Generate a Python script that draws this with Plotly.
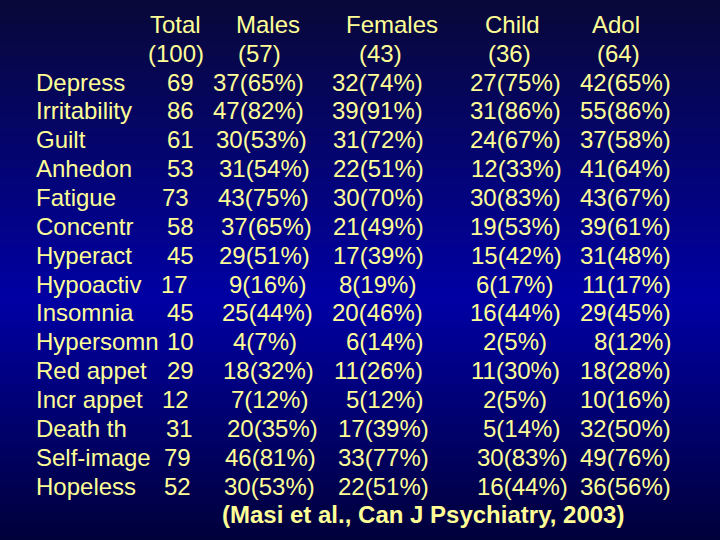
import plotly.graph_objects as go

# ---------------- data ----------------
symptoms = ["Depress", "Irritability", "Guilt", "Anhedon", "Fatigue", "Concentr",
            "Hyperact", "Hypoactiv", "Insomnia", "Hypersomn", "Red appet",
            "Incr appet", "Death th", "Self-image", "Hopeless"]
total = [69, 86, 61, 53, 73, 58, 45, 17, 45, 10, 29, 12, 31, 79, 52]
males = [37, 47, 30, 31, 43, 37, 29, 9, 25, 4, 18, 7, 20, 46, 30]
males_pct = [65, 82, 53, 54, 75, 65, 51, 16, 44, 7, 32, 12, 35, 81, 53]
females = [32, 39, 31, 22, 30, 21, 17, 8, 20, 6, 11, 5, 17, 33, 22]
females_pct = [74, 91, 72, 51, 70, 49, 39, 19, 46, 14, 26, 12, 39, 77, 51]
child = [27, 31, 24, 12, 30, 19, 15, 6, 16, 2, 11, 2, 5, 30, 16]
child_pct = [75, 86, 67, 33, 83, 53, 42, 17, 44, 5, 30, 5, 14, 83, 44]
adol = [42, 55, 37, 41, 43, 39, 31, 11, 29, 8, 18, 10, 32, 49, 36]
adol_pct = [65, 86, 58, 64, 67, 61, 48, 17, 45, 12, 28, 16, 50, 76, 56]

group_names = ["Total", "Males", "Females", "Child", "Adol"]
group_n = [100, 57, 43, 36, 64]
citation = "(Masi et al., Can J Psychiatry, 2003)"

# ---------------- layout / style ----------------
W, H = 720, 540
FONT = "Liberation Sans, Arial, sans-serif"
TXT = "#ffff96"
FS = 24

# column placement (pixel x, anchor) and per-row alignment offsets as on the slide
label_x = 34
col_cfg = [
    (196, "right"),   # total
    (258, "center"),  # males
    (425, "right"),   # females
    (515, "center"),  # child
    (673, "right"),   # adol
]
row_offsets = [
    [0, 0, 0, 0, -5, 0, 0, -6, 0, 0, 0, -5, -1, -3, -3],
    [0, 0, 3, 6, 5, 8, 6, 9, 9, 7, 10, 11, 14, 12, 11],
    [0, 0, 1, 1, 1, 1, 1, -7, 0, 0, 0, 0, 6, 6, 6],
    [0, 0, 0, 1, 0, 0, 1, -1, 0, 0, 0, 0, 6, 7, 7],
    [0] * 15,
]
head_x = [175, 268, 392, 512, 616]
sub_x = [176, 259, 380, 509, 618]

fig = go.Figure()

# background gradient (dark navy -> blue -> dark navy)
def lerp(c1, c2, t):
    return tuple(int(round(a + (b - a) * t)) for a, b in zip(c1, c2))

stops = [(0, (8, 8, 56)), (300, (0, 0, 164)), (540, (0, 0, 58))]
shapes = []
step = 4
for y0 in range(0, H, step):
    ym = y0 + step / 2
    for (p0, c0), (p1, c1) in zip(stops[:-1], stops[1:]):
        if p0 <= ym <= p1:
            col = lerp(c0, c1, (ym - p0) / (p1 - p0))
            break
    shapes.append(dict(type="rect", xref="paper", yref="paper",
                       x0=0, x1=1, y0=1 - y0 / H, y1=1 - (y0 + step + 0.5) / H,
                       fillcolor="rgb(%d,%d,%d)" % col, line=dict(width=0),
                       layer="below"))

ann = []
def add(x, y, text, anchor, bold=False):
    ann.append(dict(x=x, y=y, xref="x", yref="y", text=("<b>%s</b>" % text) if bold else text,
                    showarrow=False, xanchor=anchor, yanchor="middle",
                    font=dict(family=FONT, size=FS, color=TXT)))

# headers (rows -2 and -1)
for i, name in enumerate(group_names):
    add(head_x[i], -2, name, "center")
    add(sub_x[i], -1, "(%d)" % group_n[i], "center")

cols = [
    [str(v) for v in total],
    ["%d(%d%%)" % (a, b) for a, b in zip(males, males_pct)],
    ["%d(%d%%)" % (a, b) for a, b in zip(females, females_pct)],
    ["%d(%d%%)" % (a, b) for a, b in zip(child, child_pct)],
    ["%d(%d%%)" % (a, b) for a, b in zip(adol, adol_pct)],
]
for r, s in enumerate(symptoms):
    add(label_x, r, s, "left")
    for c, vals in enumerate(cols):
        x, anc = col_cfg[c]
        add(x + row_offsets[c][r], r, vals[r], anc)

add(423, len(symptoms), citation, "center", bold=True)

row_px = 28.86
top_px = 82
fig.add_trace(go.Scatter(x=[0], y=[0], mode="markers", marker=dict(opacity=0),
                         hoverinfo="skip", showlegend=False))
fig.update_layout(
    width=W, height=H, margin=dict(l=0, r=0, t=0, b=0),
    paper_bgcolor="#000080", plot_bgcolor="rgba(0,0,0,0)",
    xaxis=dict(range=[0, W], visible=False, fixedrange=True),
    yaxis=dict(range=[(H - top_px) / row_px, -top_px / row_px], visible=False, fixedrange=True),
    shapes=shapes, annotations=ann, showlegend=False,
)
fig.write_html(
    "out.html",
    config={"displayModeBar": False},
    post_script="document.documentElement.style.margin='0';document.body.style.margin='0';"
                "document.body.style.padding='0';document.body.style.overflow='hidden';"
                "document.body.style.background='#000030';",
)
